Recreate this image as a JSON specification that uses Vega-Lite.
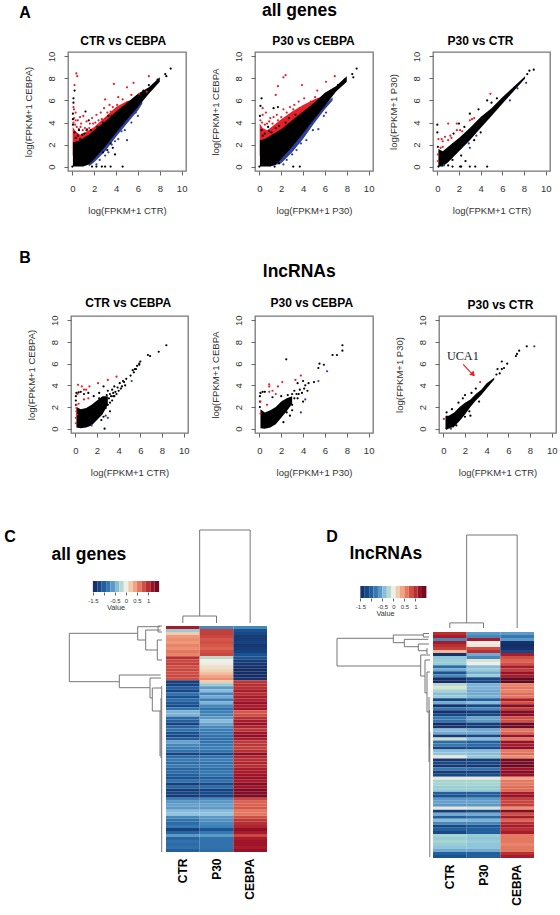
{"$schema":"https://vega.github.io/schema/vega-lite/v6.json","autosize":{"type":"none"},"padding":{"left":68,"top":52,"right":492,"bottom":863},"background":"white",
"config":{"view":{"stroke":null},"concat":{"spacing":0},"font":"Liberation Sans","title":{"font":"Liberation Sans","fontSize":12,"fontWeight":"bold","offset":3,"color":"#000","anchor":"middle"},
"axisX":{"grid":false,"domain":false,"tickColor":"#666","tickSize":4,"labelColor":"#333","labelFontSize":9.5,"labelPadding":8,"labelFlush":false,"labelOverlap":false,"titleFontWeight":"normal","titleFontSize":9.5,"titleColor":"#333","titlePadding":13},
"axisY":{"grid":false,"domain":false,"tickColor":"#666","tickSize":4,"labelColor":"#333","labelFontSize":9.5,"labelPadding":8,"labelAngle":-90,"labelAlign":"center","labelBaseline":"bottom","labelOverlap":false,"titleFontWeight":"normal","titleFontSize":9.5,"titleColor":"#333","titlePadding":13}},
"datasets":{
"env":[
{"p":"a1","c":"up","x":0.03,"lo":1,"hi":3.6},{"p":"a1","c":"up","x":0.3,"lo":1,"hi":3.2},{"p":"a1","c":"up","x":0.7,"lo":1.5,"hi":2.9},{"p":"a1","c":"up","x":1,"lo":2,"hi":3},{"p":"a1","c":"up","x":2,"lo":2.8,"hi":3.6},{"p":"a1","c":"up","x":3,"lo":3.6,"hi":4.5},{"p":"a1","c":"up","x":4,"lo":4.5,"hi":5.4},{"p":"a1","c":"up","x":5,"lo":5.4,"hi":5.95},{"p":"a1","c":"up","x":5.6,"lo":5.9,"hi":6.05},
{"p":"a1","c":"down","x":1.5,"lo":0,"hi":0.3},{"p":"a1","c":"down","x":2,"lo":0.4,"hi":0.8},{"p":"a1","c":"down","x":3,"lo":1.4,"hi":1.9},{"p":"a1","c":"down","x":4,"lo":2.7,"hi":3.1},{"p":"a1","c":"down","x":5,"lo":3.9,"hi":4.3},{"p":"a1","c":"down","x":6,"lo":5.1,"hi":5.5},{"p":"a1","c":"down","x":6.4,"lo":5.7,"hi":5.9},
{"p":"a1","c":"ns","x":0.05,"lo":0,"hi":2.2},{"p":"a1","c":"ns","x":0.5,"lo":0,"hi":2.3},{"p":"a1","c":"ns","x":1,"lo":0,"hi":2.6},{"p":"a1","c":"ns","x":1.5,"lo":0.2,"hi":2.9},{"p":"a1","c":"ns","x":2,"lo":0.7,"hi":3.3},{"p":"a1","c":"ns","x":3,"lo":1.8,"hi":4.1},{"p":"a1","c":"ns","x":4,"lo":3.05,"hi":5},{"p":"a1","c":"ns","x":5,"lo":4.25,"hi":5.8},{"p":"a1","c":"ns","x":6,"lo":5.4,"hi":6.6},{"p":"a1","c":"ns","x":7,"lo":6.6,"hi":7.2},{"p":"a1","c":"ns","x":8,"lo":7.7,"hi":8.1},
{"p":"a2","c":"up","x":0.03,"lo":1,"hi":3.9},{"p":"a2","c":"up","x":0.3,"lo":1,"hi":3.5},{"p":"a2","c":"up","x":0.7,"lo":1.6,"hi":3.3},{"p":"a2","c":"up","x":1,"lo":2.2,"hi":3.5},{"p":"a2","c":"up","x":2,"lo":3,"hi":4.3},{"p":"a2","c":"up","x":3,"lo":3.9,"hi":5},{"p":"a2","c":"up","x":4,"lo":4.8,"hi":5.6},{"p":"a2","c":"up","x":5,"lo":5.6,"hi":6.1},{"p":"a2","c":"up","x":5.5,"lo":6,"hi":6.3},
{"p":"a2","c":"down","x":1,"lo":0,"hi":0.2},{"p":"a2","c":"down","x":2,"lo":0.3,"hi":0.8},{"p":"a2","c":"down","x":3,"lo":1.3,"hi":1.9},{"p":"a2","c":"down","x":4,"lo":2.5,"hi":3.1},{"p":"a2","c":"down","x":5,"lo":3.9,"hi":4.4},{"p":"a2","c":"down","x":6,"lo":5.2,"hi":5.6},{"p":"a2","c":"down","x":6.7,"lo":6,"hi":6.3},
{"p":"a2","c":"ns","x":0.05,"lo":0,"hi":2.4},{"p":"a2","c":"ns","x":0.5,"lo":0,"hi":2.5},{"p":"a2","c":"ns","x":1,"lo":0,"hi":2.8},{"p":"a2","c":"ns","x":1.5,"lo":0.2,"hi":3.1},{"p":"a2","c":"ns","x":2,"lo":0.7,"hi":3.4},{"p":"a2","c":"ns","x":3,"lo":1.8,"hi":4.2},{"p":"a2","c":"ns","x":4,"lo":3,"hi":5},{"p":"a2","c":"ns","x":5,"lo":4.3,"hi":5.8},{"p":"a2","c":"ns","x":6,"lo":5.5,"hi":6.7},{"p":"a2","c":"ns","x":7,"lo":6.8,"hi":7.3},{"p":"a2","c":"ns","x":8,"lo":7.7,"hi":8.2},
{"p":"a3","c":"ns","x":0.1,"lo":0,"hi":1.6},{"p":"a3","c":"ns","x":0.5,"lo":0,"hi":1.4},{"p":"a3","c":"ns","x":1,"lo":0.4,"hi":1.8},{"p":"a3","c":"ns","x":1.5,"lo":0.9,"hi":2.2},{"p":"a3","c":"ns","x":2,"lo":1.4,"hi":2.6},{"p":"a3","c":"ns","x":3,"lo":2.4,"hi":3.5},{"p":"a3","c":"ns","x":4,"lo":3.5,"hi":4.5},{"p":"a3","c":"ns","x":5,"lo":4.6,"hi":5.3},{"p":"a3","c":"ns","x":6,"lo":5.7,"hi":6.3},{"p":"a3","c":"ns","x":7,"lo":6.8,"hi":7.2},{"p":"a3","c":"ns","x":8.1,"lo":8,"hi":8.2},
{"p":"b1","c":"ns","x":0.1,"lo":0.1,"hi":2},{"p":"b1","c":"ns","x":0.5,"lo":0.05,"hi":1.8},{"p":"b1","c":"ns","x":1,"lo":0.1,"hi":1.9},{"p":"b1","c":"ns","x":1.5,"lo":0.3,"hi":2.2},{"p":"b1","c":"ns","x":2,"lo":0.8,"hi":2.6},{"p":"b1","c":"ns","x":2.5,"lo":1.3,"hi":3},{"p":"b1","c":"ns","x":3,"lo":2.2,"hi":3},
{"p":"b2","c":"ns","x":0.1,"lo":0.05,"hi":1.8},{"p":"b2","c":"ns","x":0.5,"lo":0,"hi":1.5},{"p":"b2","c":"ns","x":1,"lo":0.1,"hi":1.7},{"p":"b2","c":"ns","x":1.5,"lo":0.4,"hi":2},{"p":"b2","c":"ns","x":2,"lo":1,"hi":2.5},{"p":"b2","c":"ns","x":2.5,"lo":1.6,"hi":2.8},{"p":"b2","c":"ns","x":3,"lo":2.3,"hi":3},
{"p":"b3","c":"ns","x":0.2,"lo":0,"hi":1.2},{"p":"b3","c":"ns","x":0.5,"lo":0,"hi":1.2},{"p":"b3","c":"ns","x":1,"lo":0.2,"hi":1.5},{"p":"b3","c":"ns","x":1.5,"lo":0.7,"hi":2},{"p":"b3","c":"ns","x":2,"lo":1.3,"hi":2.4},{"p":"b3","c":"ns","x":2.5,"lo":2,"hi":2.7},{"p":"b3","c":"ns","x":3,"lo":2.6,"hi":3.2},{"p":"b3","c":"ns","x":3.5,"lo":3.1,"hi":3.6},{"p":"b3","c":"ns","x":4,"lo":3.7,"hi":4.2},{"p":"b3","c":"ns","x":4.7,"lo":4.55,"hi":4.7}
],
"pts":[
{"p":"a1","c":"up","x":0.36,"y":8.45},{"p":"a1","c":"up","x":0.45,"y":8.2},{"p":"a1","c":"up","x":0.2,"y":7.4},{"p":"a1","c":"up","x":0.1,"y":5.4},{"p":"a1","c":"up","x":0.15,"y":5.2},{"p":"a1","c":"up","x":0.3,"y":4.9},{"p":"a1","c":"up","x":0.7,"y":4.5},{"p":"a1","c":"up","x":1,"y":4.6},{"p":"a1","c":"up","x":0.5,"y":4.2},{"p":"a1","c":"up","x":3.8,"y":7.5},{"p":"a1","c":"up","x":5,"y":7.2},{"p":"a1","c":"up","x":5.6,"y":7.6},{"p":"a1","c":"up","x":7,"y":8.2},{"p":"a1","c":"up","x":6.1,"y":6.6},{"p":"a1","c":"up","x":6.8,"y":6.8},{"p":"a1","c":"up","x":4.2,"y":6.3},{"p":"a1","c":"up","x":4.6,"y":6.1},{"p":"a1","c":"up","x":3,"y":6.1},{"p":"a1","c":"up","x":2.9,"y":5.3},{"p":"a1","c":"up","x":3.4,"y":5.6},{"p":"a1","c":"up","x":2.6,"y":4.9},{"p":"a1","c":"up","x":3.7,"y":5.4},{"p":"a1","c":"up","x":5.4,"y":6.5},{"p":"a1","c":"up","x":1.8,"y":4.4},{"p":"a1","c":"up","x":2.2,"y":4.7},{"p":"a1","c":"up","x":1.3,"y":4.1},{"p":"a1","c":"up","x":0.8,"y":3.9},{"p":"a1","c":"up","x":2.4,"y":4.2},{"p":"a1","c":"up","x":1.6,"y":3.9},{"p":"a1","c":"up","x":3.2,"y":4.9},{"p":"a1","c":"up","x":4.1,"y":5.6},{"p":"a1","c":"up","x":0.1,"y":4},{"p":"a1","c":"up","x":0.25,"y":3.8},{"p":"a1","c":"up","x":0.4,"y":3.6},{"p":"a1","c":"up","x":0.6,"y":3.4},{"p":"a1","c":"up","x":0.75,"y":3.6},{"p":"a1","c":"up","x":0.95,"y":3.3},{"p":"a1","c":"up","x":1.15,"y":3.5},{"p":"a1","c":"up","x":1.35,"y":3.4},{"p":"a1","c":"up","x":1.55,"y":3.5},{"p":"a1","c":"up","x":1.9,"y":3.9},{"p":"a1","c":"up","x":2.1,"y":4},{"p":"a1","c":"up","x":2.7,"y":4.3},{"p":"a1","c":"up","x":3.5,"y":5},{"p":"a1","c":"up","x":0.15,"y":4.4},{"p":"a1","c":"up","x":0.3,"y":4.2},
{"p":"a1","c":"ns","x":0.1,"y":6.2},{"p":"a1","c":"ns","x":0.1,"y":5.8},{"p":"a1","c":"ns","x":0.05,"y":4.8},{"p":"a1","c":"ns","x":0.05,"y":4.3},{"p":"a1","c":"ns","x":0.05,"y":3.8},{"p":"a1","c":"ns","x":1.2,"y":5},{"p":"a1","c":"ns","x":6.5,"y":6.9},{"p":"a1","c":"ns","x":7,"y":7.4},{"p":"a1","c":"ns","x":7.4,"y":7.4},{"p":"a1","c":"ns","x":7.8,"y":7.9},{"p":"a1","c":"ns","x":8.5,"y":8.4},{"p":"a1","c":"ns","x":8.6,"y":8.2},{"p":"a1","c":"ns","x":9,"y":8.9},{"p":"a1","c":"ns","x":0.2,"y":6.9},{"p":"a1","c":"ns","x":0,"y":0},{"p":"a1","c":"ns","x":1.8,"y":0},{"p":"a1","c":"ns","x":2.2,"y":0},{"p":"a1","c":"ns","x":2.7,"y":0},{"p":"a1","c":"ns","x":3,"y":0},{"p":"a1","c":"ns","x":3.5,"y":0},{"p":"a1","c":"ns","x":4.6,"y":0},{"p":"a1","c":"ns","x":3.7,"y":1.7},{"p":"a1","c":"ns","x":3.9,"y":1.1},{"p":"a1","c":"ns","x":3.5,"y":2.1},{"p":"a1","c":"ns","x":2.8,"y":1.3},{"p":"a1","c":"ns","x":3.2,"y":1.5},{"p":"a1","c":"ns","x":3.3,"y":4.6},{"p":"a1","c":"ns","x":0.6,"y":3.3},{"p":"a1","c":"ns","x":1.3,"y":3.3},{"p":"a1","c":"ns","x":0.9,"y":2.9},{"p":"a1","c":"ns","x":0.3,"y":2.6},{"p":"a1","c":"ns","x":0.5,"y":2.8},{"p":"a1","c":"ns","x":0.2,"y":3.1},{"p":"a1","c":"ns","x":1.1,"y":3},{"p":"a1","c":"ns","x":1.7,"y":3.3},{"p":"a1","c":"ns","x":2.3,"y":3.6},{"p":"a1","c":"ns","x":2.8,"y":4},{"p":"a1","c":"ns","x":3.6,"y":4.6},{"p":"a1","c":"ns","x":4.4,"y":5.2},{"p":"a1","c":"ns","x":0.7,"y":2.5},{"p":"a1","c":"ns","x":1.5,"y":4.2},
{"p":"a1","c":"down","x":5,"y":2.4},{"p":"a1","c":"down","x":4.8,"y":3.3},{"p":"a1","c":"down","x":4.5,"y":3.2},{"p":"a1","c":"down","x":5.4,"y":4},{"p":"a1","c":"down","x":6,"y":4.6},{"p":"a1","c":"down","x":3.6,"y":2},{"p":"a1","c":"down","x":3,"y":1},{"p":"a1","c":"down","x":2.5,"y":0.6},{"p":"a1","c":"down","x":4.2,"y":2.5},{"p":"a1","c":"down","x":3.3,"y":1.3},{"p":"a1","c":"down","x":2.2,"y":0.2},{"p":"a1","c":"down","x":3.9,"y":2.3},{"p":"a1","c":"down","x":5.8,"y":4.9},
{"p":"a2","c":"up","x":2.4,"y":8.3},{"p":"a2","c":"up","x":2.2,"y":8.1},{"p":"a2","c":"up","x":1.7,"y":7.3},{"p":"a2","c":"up","x":5.3,"y":6.9},{"p":"a2","c":"up","x":6.1,"y":7.7},{"p":"a2","c":"up","x":3.9,"y":7.4},{"p":"a2","c":"up","x":6.9,"y":8.2},{"p":"a2","c":"up","x":4.1,"y":6.2},{"p":"a2","c":"up","x":3.6,"y":5.9},{"p":"a2","c":"up","x":4.7,"y":5.9},{"p":"a2","c":"up","x":5.1,"y":6.3},{"p":"a2","c":"up","x":3.2,"y":5.6},{"p":"a2","c":"up","x":1.5,"y":6.5},{"p":"a2","c":"up","x":0.3,"y":5.3},{"p":"a2","c":"up","x":0.6,"y":4.9},{"p":"a2","c":"up","x":0.3,"y":4.7},{"p":"a2","c":"up","x":1,"y":4.4},{"p":"a2","c":"up","x":1.6,"y":4.7},{"p":"a2","c":"up","x":2.2,"y":5.2},{"p":"a2","c":"up","x":2.8,"y":5.4},{"p":"a2","c":"up","x":0.9,"y":4.1},{"p":"a2","c":"up","x":2.5,"y":4.9},{"p":"a2","c":"up","x":1.3,"y":4.5},{"p":"a2","c":"up","x":0.1,"y":4.2},{"p":"a2","c":"up","x":0.25,"y":4},{"p":"a2","c":"up","x":0.5,"y":3.8},{"p":"a2","c":"up","x":0.7,"y":3.9},{"p":"a2","c":"up","x":1.2,"y":3.9},{"p":"a2","c":"up","x":1.7,"y":4.2},{"p":"a2","c":"up","x":2,"y":4.5},{"p":"a2","c":"up","x":3.1,"y":5.2},{"p":"a2","c":"up","x":3.7,"y":5.3},
{"p":"a2","c":"ns","x":0.2,"y":6.2},{"p":"a2","c":"ns","x":0.1,"y":5.5},{"p":"a2","c":"ns","x":0.05,"y":4.6},{"p":"a2","c":"ns","x":1.7,"y":5.4},{"p":"a2","c":"ns","x":1.3,"y":5.3},{"p":"a2","c":"ns","x":0.9,"y":3.2},{"p":"a2","c":"ns","x":1.5,"y":3.5},{"p":"a2","c":"ns","x":0.5,"y":3},{"p":"a2","c":"ns","x":6.6,"y":6.9},{"p":"a2","c":"ns","x":7.2,"y":7.4},{"p":"a2","c":"ns","x":7.8,"y":7.9},{"p":"a2","c":"ns","x":8.5,"y":8.4},{"p":"a2","c":"ns","x":8.6,"y":8.1},{"p":"a2","c":"ns","x":8.9,"y":8.9},{"p":"a2","c":"ns","x":0,"y":0},{"p":"a2","c":"ns","x":1.4,"y":0},{"p":"a2","c":"ns","x":3.1,"y":0},{"p":"a2","c":"ns","x":3.7,"y":0},{"p":"a2","c":"ns","x":1.8,"y":0.3},{"p":"a2","c":"ns","x":0.3,"y":2.8},{"p":"a2","c":"ns","x":0.2,"y":3.3},{"p":"a2","c":"ns","x":1.1,"y":3.1},{"p":"a2","c":"ns","x":1.8,"y":3.7},{"p":"a2","c":"ns","x":2.4,"y":4},{"p":"a2","c":"ns","x":0.8,"y":3.6},{"p":"a2","c":"ns","x":3.3,"y":4.7},{"p":"a2","c":"ns","x":2.7,"y":4.4},
{"p":"a2","c":"down","x":5.4,"y":3.4},{"p":"a2","c":"down","x":4.9,"y":3.3},{"p":"a2","c":"down","x":3,"y":1.1},{"p":"a2","c":"down","x":3.4,"y":1.5},{"p":"a2","c":"down","x":2.5,"y":0.6},{"p":"a2","c":"down","x":4.3,"y":2.4},{"p":"a2","c":"down","x":6.1,"y":4.9},{"p":"a2","c":"down","x":5.9,"y":4.6},{"p":"a2","c":"down","x":3.8,"y":2.1},{"p":"a2","c":"down","x":2.2,"y":0.2},
{"p":"a3","c":"ns","x":0,"y":3.8},{"p":"a3","c":"ns","x":0,"y":3.1},{"p":"a3","c":"ns","x":0.05,"y":1.8},{"p":"a3","c":"ns","x":2,"y":3.9},{"p":"a3","c":"ns","x":3,"y":4.8},{"p":"a3","c":"ns","x":3.8,"y":5.2},{"p":"a3","c":"ns","x":8.5,"y":8.7},{"p":"a3","c":"ns","x":8.3,"y":8.4},{"p":"a3","c":"ns","x":8.9,"y":8.8},{"p":"a3","c":"ns","x":4.6,"y":6},{"p":"a3","c":"ns","x":5,"y":5.8},{"p":"a3","c":"ns","x":5.5,"y":6.2},{"p":"a3","c":"ns","x":4,"y":3.1},{"p":"a3","c":"ns","x":2.2,"y":1},{"p":"a3","c":"ns","x":2.6,"y":0.5},{"p":"a3","c":"ns","x":2.1,"y":0},{"p":"a3","c":"ns","x":2.2,"y":0},{"p":"a3","c":"ns","x":3,"y":0},{"p":"a3","c":"ns","x":3.5,"y":0},{"p":"a3","c":"ns","x":4.6,"y":0},{"p":"a3","c":"ns","x":1.4,"y":0},{"p":"a3","c":"ns","x":0.1,"y":0},{"p":"a3","c":"ns","x":1,"y":0.1},{"p":"a3","c":"ns","x":1.5,"y":3},{"p":"a3","c":"ns","x":2.5,"y":3.6},{"p":"a3","c":"ns","x":3.4,"y":2.4},{"p":"a3","c":"ns","x":1.4,"y":0.6},
{"p":"a3","c":"up","x":0.1,"y":2.5},{"p":"a3","c":"up","x":0.4,"y":2.5},{"p":"a3","c":"up","x":0.5,"y":2.3},{"p":"a3","c":"up","x":0.7,"y":2.7},{"p":"a3","c":"up","x":1,"y":2.4},{"p":"a3","c":"up","x":1.2,"y":2.8},{"p":"a3","c":"up","x":1.3,"y":2.6},{"p":"a3","c":"up","x":1,"y":3.9},{"p":"a3","c":"up","x":0.3,"y":1.7},{"p":"a3","c":"up","x":0.5,"y":1.8},{"p":"a3","c":"up","x":0.05,"y":1.1},{"p":"a3","c":"up","x":1.8,"y":3.3},{"p":"a3","c":"up","x":2.1,"y":3.3},{"p":"a3","c":"up","x":2.3,"y":3.2},{"p":"a3","c":"up","x":1.8,"y":3.9},{"p":"a3","c":"up","x":3,"y":4.2},{"p":"a3","c":"up","x":3.2,"y":4.3},{"p":"a3","c":"up","x":3.4,"y":4.4},{"p":"a3","c":"up","x":4.9,"y":6.6},{"p":"a3","c":"up","x":0.05,"y":0.5},
{"p":"a3","c":"down","x":8.2,"y":7.6},{"p":"a3","c":"down","x":6.7,"y":6},{"p":"a3","c":"down","x":3.6,"y":2.8},{"p":"a3","c":"down","x":3,"y":1.7},{"p":"a3","c":"down","x":0.6,"y":0.1},{"p":"a3","c":"down","x":2.9,"y":2.1},{"p":"a3","c":"down","x":7.4,"y":7.1},
{"p":"b1","c":"ns","x":0.05,"y":2.2},{"p":"b1","c":"ns","x":0.05,"y":2.6},{"p":"b1","c":"ns","x":0.05,"y":3},{"p":"b1","c":"ns","x":0.1,"y":3.3},{"p":"b1","c":"ns","x":0.3,"y":3.35},{"p":"b1","c":"ns","x":0.5,"y":3.4},{"p":"b1","c":"ns","x":0.8,"y":3.2},{"p":"b1","c":"ns","x":1.2,"y":3.3},{"p":"b1","c":"ns","x":1.7,"y":3},{"p":"b1","c":"ns","x":2.2,"y":3.3},{"p":"b1","c":"ns","x":2.6,"y":3.9},{"p":"b1","c":"ns","x":3,"y":3.5},{"p":"b1","c":"ns","x":3.2,"y":3.2},{"p":"b1","c":"ns","x":3.4,"y":3.6},{"p":"b1","c":"ns","x":3.5,"y":3},{"p":"b1","c":"ns","x":3.6,"y":3.9},{"p":"b1","c":"ns","x":3.7,"y":3.4},{"p":"b1","c":"ns","x":3.8,"y":3.2},{"p":"b1","c":"ns","x":3.9,"y":3.8},{"p":"b1","c":"ns","x":4,"y":3.5},{"p":"b1","c":"ns","x":4.1,"y":4.2},{"p":"b1","c":"ns","x":4.2,"y":3.7},{"p":"b1","c":"ns","x":4.3,"y":3.9},{"p":"b1","c":"ns","x":4.4,"y":4.4},{"p":"b1","c":"ns","x":4.5,"y":4.3},{"p":"b1","c":"ns","x":4.6,"y":4},{"p":"b1","c":"ns","x":4.7,"y":4.6},{"p":"b1","c":"ns","x":3.2,"y":2.4},{"p":"b1","c":"ns","x":3.4,"y":2.6},{"p":"b1","c":"ns","x":2.8,"y":1.9},{"p":"b1","c":"ns","x":3.2,"y":1.6},{"p":"b1","c":"ns","x":2.4,"y":0.8},{"p":"b1","c":"ns","x":2.7,"y":0},{"p":"b1","c":"ns","x":5.3,"y":5.4},{"p":"b1","c":"ns","x":5.5,"y":5.5},{"p":"b1","c":"ns","x":5.4,"y":5.2},{"p":"b1","c":"ns","x":5.7,"y":5.8},{"p":"b1","c":"ns","x":5.6,"y":5.5},{"p":"b1","c":"ns","x":5.9,"y":5.9},{"p":"b1","c":"ns","x":5.1,"y":4.9},{"p":"b1","c":"ns","x":6,"y":6.2},{"p":"b1","c":"ns","x":5.9,"y":6},{"p":"b1","c":"ns","x":6.7,"y":6.8},{"p":"b1","c":"ns","x":6.9,"y":6.7},{"p":"b1","c":"ns","x":7.7,"y":7.1},{"p":"b1","c":"ns","x":8.4,"y":7.7},{"p":"b1","c":"ns","x":2.9,"y":3.1},{"p":"b1","c":"ns","x":3.1,"y":2.8},{"p":"b1","c":"ns","x":3.3,"y":3},{"p":"b1","c":"ns","x":3.6,"y":3},{"p":"b1","c":"ns","x":3.5,"y":3.3},{"p":"b1","c":"ns","x":3,"y":2.2},{"p":"b1","c":"ns","x":2.6,"y":1.1},{"p":"b1","c":"ns","x":2.2,"y":2.8},
{"p":"b1","c":"up","x":0.2,"y":3.2},{"p":"b1","c":"up","x":0.25,"y":4.05},{"p":"b1","c":"up","x":0.6,"y":3.9},{"p":"b1","c":"up","x":0.8,"y":3.6},{"p":"b1","c":"up","x":1,"y":3.6},{"p":"b1","c":"up","x":1.3,"y":3.9},{"p":"b1","c":"up","x":2.1,"y":4.2},{"p":"b1","c":"up","x":3,"y":4.5},{"p":"b1","c":"up","x":3.8,"y":4.8},{"p":"b1","c":"up","x":0.1,"y":2.2},{"p":"b1","c":"up","x":0.1,"y":1.6},{"p":"b1","c":"up","x":0.05,"y":1},{"p":"b1","c":"up","x":0.05,"y":0.5},{"p":"b1","c":"up","x":0.3,"y":2.3},{"p":"b1","c":"up","x":0.8,"y":2.7},{"p":"b1","c":"up","x":1.2,"y":2.8},{"p":"b1","c":"up","x":0.1,"y":1.9},{"p":"b1","c":"up","x":0.15,"y":1.3},
{"p":"b1","c":"down","x":3,"y":1},{"p":"b1","c":"down","x":2.8,"y":1.2},{"p":"b1","c":"down","x":1.5,"y":0.3},{"p":"b1","c":"down","x":5.2,"y":4.4},
{"p":"b2","c":"ns","x":0.05,"y":2},{"p":"b2","c":"ns","x":0.05,"y":2.5},{"p":"b2","c":"ns","x":0.05,"y":3},{"p":"b2","c":"ns","x":0.1,"y":3.3},{"p":"b2","c":"ns","x":0.3,"y":3.4},{"p":"b2","c":"ns","x":0.5,"y":3.4},{"p":"b2","c":"ns","x":1.2,"y":2.9},{"p":"b2","c":"ns","x":2,"y":3},{"p":"b2","c":"ns","x":2.46,"y":6.4},{"p":"b2","c":"ns","x":7.6,"y":7.7},{"p":"b2","c":"ns","x":7.6,"y":7.2},{"p":"b2","c":"ns","x":7.1,"y":6.8},{"p":"b2","c":"ns","x":6.7,"y":6.8},{"p":"b2","c":"ns","x":5.5,"y":6},{"p":"b2","c":"ns","x":5.9,"y":5.9},{"p":"b2","c":"ns","x":5.4,"y":5.6},{"p":"b2","c":"ns","x":3.5,"y":4.2},{"p":"b2","c":"ns","x":4,"y":4.4},{"p":"b2","c":"ns","x":4.2,"y":4},{"p":"b2","c":"ns","x":4.5,"y":4.2},{"p":"b2","c":"ns","x":5,"y":4.3},{"p":"b2","c":"ns","x":3.7,"y":3.6},{"p":"b2","c":"ns","x":4.4,"y":3.5},{"p":"b2","c":"ns","x":3.5,"y":2.8},{"p":"b2","c":"ns","x":3,"y":2.2},{"p":"b2","c":"ns","x":2.5,"y":1.5},{"p":"b2","c":"ns","x":3,"y":1.7},{"p":"b2","c":"ns","x":4,"y":2.5},{"p":"b2","c":"ns","x":3.2,"y":3.5},{"p":"b2","c":"ns","x":3.4,"y":3.2},{"p":"b2","c":"ns","x":3.9,"y":3.3},{"p":"b2","c":"ns","x":4.1,"y":3.7},{"p":"b2","c":"ns","x":3,"y":3.2},{"p":"b2","c":"ns","x":2.6,"y":3.1},{"p":"b2","c":"ns","x":2.8,"y":1.2},{"p":"b2","c":"ns","x":2.2,"y":0.6},{"p":"b2","c":"ns","x":3.2,"y":2.8},{"p":"b2","c":"ns","x":3.6,"y":3.2},
{"p":"b2","c":"up","x":0.9,"y":4.1},{"p":"b2","c":"up","x":0.9,"y":3.9},{"p":"b2","c":"up","x":1.2,"y":3.5},{"p":"b2","c":"up","x":1.7,"y":3.9},{"p":"b2","c":"up","x":1.5,"y":3.2},{"p":"b2","c":"up","x":0.9,"y":3.4},{"p":"b2","c":"up","x":0.1,"y":2.5},{"p":"b2","c":"up","x":0.7,"y":2.2},{"p":"b2","c":"up","x":3.3,"y":4.5},{"p":"b2","c":"up","x":3.8,"y":4.9},{"p":"b2","c":"up","x":2.1,"y":4.3},{"p":"b2","c":"up","x":0.1,"y":1.4},
{"p":"b2","c":"down","x":6.2,"y":5.3},{"p":"b2","c":"down","x":5.4,"y":4.4},{"p":"b2","c":"down","x":4.2,"y":2.7},{"p":"b2","c":"down","x":3.8,"y":1.5},
{"p":"b3","c":"ns","x":7.7,"y":7.6},{"p":"b3","c":"ns","x":7,"y":7.2},{"p":"b3","c":"ns","x":6.7,"y":6.7},{"p":"b3","c":"ns","x":6.8,"y":6.9},{"p":"b3","c":"ns","x":5.4,"y":6.2},{"p":"b3","c":"ns","x":5.9,"y":6},{"p":"b3","c":"ns","x":5,"y":5.5},{"p":"b3","c":"ns","x":5.4,"y":5.5},{"p":"b3","c":"ns","x":5.6,"y":5.6},{"p":"b3","c":"ns","x":5.2,"y":5.1},{"p":"b3","c":"ns","x":4.9,"y":5},{"p":"b3","c":"ns","x":3,"y":3.7},{"p":"b3","c":"ns","x":2.6,"y":3.3},{"p":"b3","c":"ns","x":2,"y":3.1},{"p":"b3","c":"ns","x":1.8,"y":2.8},{"p":"b3","c":"ns","x":1.4,"y":2.4},{"p":"b3","c":"ns","x":0.8,"y":1.8},{"p":"b3","c":"ns","x":0.3,"y":1.5},{"p":"b3","c":"ns","x":2.5,"y":1.2},{"p":"b3","c":"ns","x":2,"y":1.1},{"p":"b3","c":"ns","x":1.2,"y":0.3},{"p":"b3","c":"ns","x":2.4,"y":1.6},{"p":"b3","c":"ns","x":3.3,"y":2.5},{"p":"b3","c":"ns","x":0.9,"y":0.2},{"p":"b3","c":"ns","x":0.3,"y":0},
{"p":"b3","c":"up","x":0.05,"y":0.9},{"p":"b3","c":"up","x":3.4,"y":4.3},{"p":"b3","c":"down","x":8.4,"y":7.6},{"p":"b3","c":"down","x":0.7,"y":0}
],
"heatC":[
{"r":1,"CTR":1.1,"P30":-0.7,"CEBPA":-0.7},{"r":2,"CTR":-0.3,"P30":0.9,"CEBPA":-1.1},{"r":3,"CTR":0.2,"P30":0.9,"CEBPA":-1.2},{"r":4,"CTR":0.45,"P30":0.85,"CEBPA":-1.3},{"r":5,"CTR":0.5,"P30":0.75,"CEBPA":-1.3},{"r":6,"CTR":0.45,"P30":0.8,"CEBPA":-1.25},{"r":7,"CTR":0.55,"P30":0.75,"CEBPA":-1.35},{"r":8,"CTR":0.5,"P30":0.7,"CEBPA":-1.3},{"r":9,"CTR":0.6,"P30":0.8,"CEBPA":-1.25},{"r":10,"CTR":0.55,"P30":0.85,"CEBPA":-1.1},
{"r":11,"CTR":1,"P30":-0.2,"CEBPA":-1.1},{"r":12,"CTR":0.85,"P30":0,"CEBPA":-1.3},{"r":13,"CTR":0.9,"P30":0.02,"CEBPA":-1.35},{"r":14,"CTR":0.8,"P30":0.1,"CEBPA":-1.4},{"r":15,"CTR":0.85,"P30":0.15,"CEBPA":-1.45},{"r":16,"CTR":0.8,"P30":0.25,"CEBPA":-1.45},{"r":17,"CTR":0.85,"P30":0.4,"CEBPA":-1.45},{"r":18,"CTR":0.8,"P30":0.5,"CEBPA":-1.4},
{"r":19,"CTR":-1.25,"P30":0.2,"CEBPA":0.95},{"r":20,"CTR":-1.25,"P30":-0.3,"CEBPA":1},{"r":21,"CTR":-1,"P30":-0.6,"CEBPA":1},{"r":22,"CTR":-1.2,"P30":-0.4,"CEBPA":1.1},{"r":23,"CTR":-0.85,"P30":-0.7,"CEBPA":1},{"r":24,"CTR":-1.1,"P30":-0.5,"CEBPA":1.1},{"r":25,"CTR":-0.9,"P30":-0.75,"CEBPA":1.05},{"r":26,"CTR":-1.05,"P30":-0.45,"CEBPA":1.2},{"r":27,"CTR":-1.15,"P30":-0.7,"CEBPA":1.1},{"r":28,"CTR":-0.85,"P30":-0.85,"CEBPA":1.15},
{"r":29,"CTR":-0.45,"P30":-0.75,"CEBPA":0.75},{"r":30,"CTR":-0.45,"P30":-0.7,"CEBPA":0.8},{"r":31,"CTR":-0.9,"P30":-0.6,"CEBPA":1},{"r":32,"CTR":-1,"P30":-0.4,"CEBPA":1.1},{"r":33,"CTR":-1.25,"P30":-0.55,"CEBPA":1.2},{"r":34,"CTR":-0.95,"P30":-0.7,"CEBPA":1.05},{"r":35,"CTR":-0.85,"P30":-0.75,"CEBPA":0.95},{"r":36,"CTR":-1.1,"P30":-0.8,"CEBPA":1.15},{"r":37,"CTR":-1.2,"P30":-0.85,"CEBPA":1.25},{"r":38,"CTR":-1,"P30":-0.9,"CEBPA":1.1},{"r":39,"CTR":-0.55,"P30":-0.85,"CEBPA":0.95},{"r":40,"CTR":-0.7,"P30":-0.8,"CEBPA":0.95},{"r":41,"CTR":-0.75,"P30":-0.75,"CEBPA":0.9},{"r":42,"CTR":-0.85,"P30":-0.85,"CEBPA":1},{"r":43,"CTR":-1.25,"P30":-1.15,"CEBPA":1.25},{"r":44,"CTR":-0.9,"P30":-0.85,"CEBPA":1.05},{"r":45,"CTR":-0.8,"P30":-0.75,"CEBPA":1},{"r":46,"CTR":-0.9,"P30":-0.85,"CEBPA":1.05},{"r":47,"CTR":-0.8,"P30":-0.8,"CEBPA":1},{"r":48,"CTR":-0.95,"P30":-0.9,"CEBPA":1.1},{"r":49,"CTR":-0.9,"P30":-0.8,"CEBPA":1.1},{"r":50,"CTR":-1,"P30":-0.85,"CEBPA":1.15},{"r":51,"CTR":-1.1,"P30":-1,"CEBPA":1.2},{"r":52,"CTR":-0.85,"P30":-0.85,"CEBPA":1.1},{"r":53,"CTR":-1.3,"P30":-1.2,"CEBPA":1.3},{"r":54,"CTR":-0.95,"P30":-0.9,"CEBPA":1.15},{"r":55,"CTR":-1.3,"P30":-1.25,"CEBPA":1.35},{"r":56,"CTR":-1.2,"P30":-1.15,"CEBPA":1.3},{"r":57,"CTR":-1.3,"P30":-1.25,"CEBPA":1.35},
{"r":58,"CTR":-0.75,"P30":-0.7,"CEBPA":0.85},{"r":59,"CTR":-0.6,"P30":-0.6,"CEBPA":0.7},{"r":60,"CTR":-0.55,"P30":-0.55,"CEBPA":0.7},{"r":61,"CTR":-0.6,"P30":-0.6,"CEBPA":0.75},{"r":62,"CTR":-0.4,"P30":-0.4,"CEBPA":0.6},{"r":63,"CTR":-0.35,"P30":-0.35,"CEBPA":0.6},{"r":64,"CTR":-0.7,"P30":-0.6,"CEBPA":0.8},{"r":65,"CTR":-0.85,"P30":-0.65,"CEBPA":0.95},{"r":66,"CTR":-0.9,"P30":-0.7,"CEBPA":1},{"r":67,"CTR":-0.8,"P30":-0.75,"CEBPA":1.05},{"r":68,"CTR":-1.25,"P30":-1.1,"CEBPA":1.25},{"r":69,"CTR":-0.95,"P30":-0.8,"CEBPA":1.1},{"r":70,"CTR":-0.6,"P30":-0.6,"CEBPA":0.85},{"r":71,"CTR":-0.95,"P30":-0.85,"CEBPA":1.1},{"r":72,"CTR":-0.85,"P30":-0.85,"CEBPA":1.15},{"r":73,"CTR":-0.9,"P30":-0.85,"CEBPA":1.15},{"r":74,"CTR":-0.85,"P30":-0.85,"CEBPA":1.1},{"r":75,"CTR":-1,"P30":-0.9,"CEBPA":1.2}
],
"heatD":[
{"r":1,"CTR":1,"P30":-0.6,"CEBPA":-0.6},{"r":2,"CTR":1.1,"P30":-0.7,"CEBPA":-0.8},{"r":3,"CTR":-0.7,"P30":1.1,"CEBPA":-0.6},{"r":4,"CTR":1.1,"P30":0,"CEBPA":-1.4},{"r":5,"CTR":1,"P30":0.05,"CEBPA":-1.45},{"r":6,"CTR":0.9,"P30":0.8,"CEBPA":-1.4},{"r":7,"CTR":0.3,"P30":1,"CEBPA":-1.2},{"r":8,"CTR":-1.4,"P30":-0.5,"CEBPA":1.1},{"r":9,"CTR":-0.35,"P30":-0.7,"CEBPA":0.8},{"r":10,"CTR":-0.3,"P30":-0.1,"CEBPA":0.7},{"r":11,"CTR":-0.3,"P30":0,"CEBPA":0.8},{"r":12,"CTR":-0.9,"P30":-0.4,"CEBPA":1.1},{"r":13,"CTR":-0.5,"P30":-0.3,"CEBPA":0.9},{"r":14,"CTR":-1.1,"P30":-0.5,"CEBPA":1.2},{"r":15,"CTR":-0.7,"P30":-0.3,"CEBPA":1.1},{"r":16,"CTR":-1.45,"P30":-1.2,"CEBPA":1.5},{"r":17,"CTR":-1.45,"P30":-1.2,"CEBPA":1.5},{"r":18,"CTR":-0.2,"P30":-0.45,"CEBPA":0.55},{"r":19,"CTR":-0.1,"P30":-0.45,"CEBPA":0.6},{"r":20,"CTR":-0.25,"P30":-0.5,"CEBPA":0.55},{"r":21,"CTR":-0.4,"P30":-0.5,"CEBPA":0.65},{"r":22,"CTR":-0.3,"P30":-0.45,"CEBPA":0.6},{"r":23,"CTR":-1.2,"P30":-1,"CEBPA":1.1},{"r":24,"CTR":-0.5,"P30":-0.4,"CEBPA":0.8},{"r":25,"CTR":-1.4,"P30":-1.2,"CEBPA":1.3},
{"r":26,"CTR":-0.8,"P30":-0.7,"CEBPA":0.9},{"r":27,"CTR":-1.4,"P30":-1.3,"CEBPA":1.3},{"r":28,"CTR":-1.2,"P30":-1.2,"CEBPA":1.25},{"r":29,"CTR":-0.8,"P30":-0.55,"CEBPA":0.8},{"r":30,"CTR":-0.85,"P30":-0.6,"CEBPA":0.8},{"r":31,"CTR":-1.45,"P30":-1.3,"CEBPA":1.45},{"r":32,"CTR":-1.35,"P30":-1.3,"CEBPA":1.4},{"r":33,"CTR":-0.4,"P30":-0.5,"CEBPA":0.6},{"r":34,"CTR":-0.5,"P30":-0.5,"CEBPA":0.7},{"r":35,"CTR":-1.3,"P30":-1.2,"CEBPA":1.2},{"r":36,"CTR":-0.15,"P30":-0.4,"CEBPA":0.6},{"r":37,"CTR":-0.9,"P30":-1,"CEBPA":1.2},{"r":38,"CTR":-0.8,"P30":-0.9,"CEBPA":1.1},{"r":39,"CTR":-1.2,"P30":-1.15,"CEBPA":1.25},{"r":40,"CTR":-0.4,"P30":-0.4,"CEBPA":0.6},{"r":41,"CTR":-0.35,"P30":-0.4,"CEBPA":0.65},{"r":42,"CTR":-0.05,"P30":-0.3,"CEBPA":0.5},{"r":43,"CTR":-1.35,"P30":-1.3,"CEBPA":1.4},{"r":44,"CTR":-1.2,"P30":-1.2,"CEBPA":1.35},{"r":45,"CTR":-1.35,"P30":-1.35,"CEBPA":1.45},{"r":46,"CTR":-0.8,"P30":-0.85,"CEBPA":1.15},{"r":47,"CTR":-1.3,"P30":-1.3,"CEBPA":1.3},{"r":48,"CTR":-1.2,"P30":-1.15,"CEBPA":1.2},{"r":49,"CTR":-0.05,"P30":-0.05,"CEBPA":0.4},{"r":50,"CTR":-0.25,"P30":-0.25,"CEBPA":0.6},{"r":51,"CTR":-0.25,"P30":-0.25,"CEBPA":0.6},{"r":52,"CTR":-0.3,"P30":-0.3,"CEBPA":0.65},{"r":53,"CTR":-0.3,"P30":-0.3,"CEBPA":0.65},{"r":54,"CTR":-1,"P30":-1,"CEBPA":1.1},{"r":55,"CTR":-1.1,"P30":-1,"CEBPA":1.2},{"r":56,"CTR":-0.6,"P30":-0.6,"CEBPA":0.9},{"r":57,"CTR":-0.55,"P30":-0.55,"CEBPA":0.85},{"r":58,"CTR":-0.6,"P30":-0.6,"CEBPA":0.9},{"r":59,"CTR":-0.05,"P30":-0.1,"CEBPA":0.5},{"r":60,"CTR":-1.3,"P30":-1.2,"CEBPA":1.3},{"r":61,"CTR":-0.5,"P30":-0.5,"CEBPA":0.8},{"r":62,"CTR":-1,"P30":-0.9,"CEBPA":1.1},{"r":63,"CTR":-0.4,"P30":-0.45,"CEBPA":0.7},{"r":64,"CTR":-0.7,"P30":-0.7,"CEBPA":1},{"r":65,"CTR":-1.2,"P30":-1.1,"CEBPA":1.1},{"r":66,"CTR":-1,"P30":-1,"CEBPA":1},{"r":67,"CTR":-1.2,"P30":-1,"CEBPA":1.1},{"r":68,"CTR":-0.25,"P30":-0.3,"CEBPA":0.6},{"r":69,"CTR":-0.3,"P30":-0.35,"CEBPA":0.6},{"r":70,"CTR":-0.25,"P30":-0.3,"CEBPA":0.6},{"r":71,"CTR":-0.3,"P30":-0.35,"CEBPA":0.55},{"r":72,"CTR":-0.35,"P30":-0.35,"CEBPA":0.6},{"r":73,"CTR":-0.5,"P30":-0.5,"CEBPA":0.6},{"r":74,"CTR":-1,"P30":-1,"CEBPA":1},{"r":75,"CTR":-1.1,"P30":-1,"CEBPA":1.1}
],
"key":[{"lo":-1.5,"hi":-1.3,"v":-1.4},{"lo":-1.3,"hi":-1.1,"v":-1.2},{"lo":-1.1,"hi":-0.9,"v":-1},{"lo":-0.9,"hi":-0.7,"v":-0.8},{"lo":-0.7,"hi":-0.5,"v":-0.6},{"lo":-0.5,"hi":-0.3,"v":-0.4},{"lo":-0.3,"hi":-0.1,"v":-0.2},{"lo":-0.1,"hi":0.1,"v":0},{"lo":0.1,"hi":0.3,"v":0.2},{"lo":0.3,"hi":0.5,"v":0.4},{"lo":0.5,"hi":0.7,"v":0.6},{"lo":0.7,"hi":0.9,"v":0.8},{"lo":0.9,"hi":1.1,"v":1},{"lo":1.1,"hi":1.3,"v":1.2},{"lo":1.3,"hi":1.5,"v":1.4}],
"dendTopC":[{"x":0.5,"x2":0.5,"y":0,"y2":0.075},{"x":1.5,"x2":1.5,"y":0,"y2":0.075},{"x":0.5,"x2":1.5,"y":0.075,"y2":0.075},{"x":1,"x2":1,"y":0.075,"y2":1},{"x":1,"x2":2.5,"y":1,"y2":1},{"x":2.5,"x2":2.5,"y":0,"y2":1}],
"dendTopD":[{"x":0.5,"x2":0.5,"y":0,"y2":0.055},{"x":1.5,"x2":1.5,"y":0,"y2":0.055},{"x":0.5,"x2":1.5,"y":0.055,"y2":0.055},{"x":1,"x2":1,"y":0.055,"y2":1},{"x":1,"x2":2.5,"y":1,"y2":1},{"x":2.5,"x2":2.5,"y":0,"y2":1}],
"dendLeftC":[{"h":92.7,"h2":92.7,"y":7.3,"y2":55.7},{"h":92.7,"h2":24.3,"y":7.3,"y2":7.3},{"h":24.3,"h2":24.3,"y":0.7,"y2":14},{"h":24.3,"h2":2,"y":0.7,"y2":0.7},{"h":24.3,"h2":16.3,"y":14,"y2":14},{"h":16.3,"h2":16.3,"y":4,"y2":24},{"h":16.3,"h2":1.3,"y":4,"y2":4},{"h":16.3,"h2":4.7,"y":24,"y2":24},{"h":4.7,"h2":4.7,"y":14,"y2":34},{"h":4.7,"h2":0,"y":14,"y2":14},{"h":4.7,"h2":0,"y":34,"y2":34},{"h":92.7,"h2":42.7,"y":55.7,"y2":55.7},{"h":42.7,"h2":42.7,"y":49,"y2":61.7},{"h":42.7,"h2":1.3,"y":49,"y2":49},{"h":42.7,"h2":12,"y":61.7,"y2":61.7},{"h":12,"h2":12,"y":52,"y2":72},{"h":12,"h2":1,"y":52,"y2":52},{"h":12,"h2":9.7,"y":72,"y2":72},{"h":9.7,"h2":9.7,"y":62,"y2":85},{"h":9.7,"h2":1,"y":62,"y2":62},{"h":9.7,"h2":1,"y":85,"y2":85},{"h":2,"h2":2,"y":85,"y2":130},{"h":1,"h2":1,"y":72,"y2":132},{"h":0.3,"h2":0.3,"y":60,"y2":226},{"h":4,"h2":4,"y":0,"y2":6},{"h":4,"h2":0,"y":0,"y2":0},{"h":4,"h2":0,"y":6,"y2":6}],
"dendLeftD":[{"h":96,"h2":96,"y":6.3,"y2":34},{"h":96,"h2":39.7,"y":6.3,"y2":6.3},{"h":39.7,"h2":39.7,"y":3,"y2":10.7},{"h":39.7,"h2":9.7,"y":3,"y2":3},{"h":9.7,"h2":9.7,"y":1.5,"y2":5},{"h":9.7,"h2":4,"y":1.5,"y2":1.5},{"h":9.7,"h2":4,"y":5,"y2":5},{"h":39.7,"h2":28.7,"y":10.7,"y2":10.7},{"h":28.7,"h2":28.7,"y":7.3,"y2":14.7},{"h":28.7,"h2":4.7,"y":7.3,"y2":7.3},{"h":28.7,"h2":14.7,"y":14.7,"y2":14.7},{"h":14.7,"h2":14.7,"y":12,"y2":18.7},{"h":14.7,"h2":4,"y":12,"y2":12},{"h":14.7,"h2":6,"y":18.7,"y2":18.7},{"h":6,"h2":6,"y":16,"y2":22},{"h":96,"h2":12.3,"y":34,"y2":34},{"h":12.3,"h2":12.3,"y":23,"y2":44},{"h":12.3,"h2":3,"y":23,"y2":23},{"h":12.3,"h2":8,"y":44,"y2":44},{"h":8,"h2":8,"y":28,"y2":61},{"h":8,"h2":3,"y":28,"y2":28},{"h":8,"h2":6,"y":61,"y2":61},{"h":6,"h2":6,"y":40,"y2":80},{"h":6,"h2":3,"y":40,"y2":40},{"h":6,"h2":4,"y":80,"y2":80},{"h":4,"h2":4,"y":65,"y2":130},{"h":3.6,"h2":3.6,"y":78,"y2":115},{"h":3.2,"h2":3.2,"y":100,"y2":225}]
},
"bounds":"flush","spacing":0,
"vconcat":[
{"hconcat":[
{"width":118,"height":119,"view":{"stroke":"#777","strokeWidth":1.3},"layer":[
{"data":{"name":"env"},"transform":[{"filter":"datum.p=='a1'"}],"mark":"area","encoding":{"x":{"field":"x","type":"quantitative","scale":{"domain":[-0.4,10.4],"nice":false},"axis":{"title":"log(FPKM+1 CTR)","values":[0,2,4,6,8,10],"tickCount":6}},"y":{"field":"lo","type":"quantitative","scale":{"domain":[-0.4,10.4],"nice":false},"axis":{"title":"log(FPKM+1 CEBPA)","values":[0,2,4,6,8,10],"tickCount":6}},"y2":{"field":"hi"},"color":{"field":"c","type":"nominal","scale":{"domain":["up","ns","down"],"range":["#e8202c","#000000","#2e40a0"]},"legend":null}}},
{"data":{"name":"pts"},"transform":[{"filter":"datum.p=='a1'"}],"mark":{"type":"circle","size":5,"opacity":1},"encoding":{"x":{"field":"x","type":"quantitative"},"y":{"field":"y","type":"quantitative"},"color":{"field":"c","type":"nominal"}}},
{"data":{"values":[{"label":"A"}]},"mark":{"type":"text","font":"Liberation Sans","fontWeight":"bold","fontSize":16,"color":"#000"},"encoding":{"x":{"datum":-4.33},"y":{"datum":13.96},"text":{"field":"label"}}},
{"data":{"values":[{"label":"CTR vs CEBPA"}]},"mark":{"type":"text","font":"Liberation Sans","fontWeight":"bold","fontSize":12,"color":"#000"},"encoding":{"x":{"datum":4.65},"y":{"datum":11.42},"text":{"field":"label"}}}
]},
{"width":69,"height":1,"data":{"values":[]},"mark":"point"},
{"width":118,"height":119,"view":{"stroke":"#777","strokeWidth":1.3},"layer":[
{"data":{"name":"env"},"transform":[{"filter":"datum.p=='a2'"}],"mark":"area","encoding":{"x":{"field":"x","type":"quantitative","scale":{"domain":[-0.4,10.4],"nice":false},"axis":{"title":"log(FPKM+1 P30)","values":[0,2,4,6,8,10],"tickCount":6}},"y":{"field":"lo","type":"quantitative","scale":{"domain":[-0.4,10.4],"nice":false},"axis":{"title":"log(FPKM+1 CEBPA","values":[0,2,4,6,8,10],"tickCount":6}},"y2":{"field":"hi"},"color":{"field":"c","type":"nominal","scale":{"domain":["up","ns","down"],"range":["#e8202c","#000000","#2e40a0"]},"legend":null}}},
{"data":{"name":"pts"},"transform":[{"filter":"datum.p=='a2'"}],"mark":{"type":"circle","size":5,"opacity":1},"encoding":{"x":{"field":"x","type":"quantitative"},"y":{"field":"y","type":"quantitative"},"color":{"field":"c","type":"nominal"}}},
{"data":{"values":[{"label":"all genes"}]},"mark":{"type":"text","font":"Liberation Sans","fontWeight":"bold","fontSize":17.5,"color":"#000"},"encoding":{"x":{"datum":3.67},"y":{"datum":14.15},"text":{"field":"label"}}},
{"data":{"values":[{"label":"P30 vs CEBPA"}]},"mark":{"type":"text","font":"Liberation Sans","fontWeight":"bold","fontSize":12,"color":"#000"},"encoding":{"x":{"datum":4.95},"y":{"datum":11.42},"text":{"field":"label"}}}
]},
{"width":60,"height":1,"data":{"values":[]},"mark":"point"},
{"width":117,"height":119,"view":{"stroke":"#777","strokeWidth":1.3},"title":{"text":"P30 vs CTR","dx":-11},"layer":[
{"data":{"name":"env"},"transform":[{"filter":"datum.p=='a3'"}],"mark":"area","encoding":{"x":{"field":"x","type":"quantitative","scale":{"domain":[-0.4,10.4],"nice":false},"axis":{"title":"log(FPKM+1 CTR)","values":[0,2,4,6,8,10],"tickCount":6}},"y":{"field":"lo","type":"quantitative","scale":{"domain":[-0.4,10.4],"nice":false},"axis":{"title":"log(FPKM+1 P30)","values":[0,2,4,6,8,10],"tickCount":6}},"y2":{"field":"hi"},"color":{"field":"c","type":"nominal","scale":{"domain":["up","ns","down"],"range":["#e8202c","#000000","#2e40a0"]},"legend":null}}},
{"data":{"name":"pts"},"transform":[{"filter":"datum.p=='a3'"}],"mark":{"type":"circle","size":5,"opacity":1},"encoding":{"x":{"field":"x","type":"quantitative"},"y":{"field":"y","type":"quantitative"},"color":{"field":"c","type":"nominal"}}}
]}
],"spacing":0,"bounds":"flush"},
{"width":1,"height":264,"data":{"values":[]},"mark":"point"},
{"hconcat":[
{"width":3,"height":1,"data":{"values":[]},"mark":"point"},
{"width":117,"height":117,"view":{"stroke":"#777","strokeWidth":1.3},"layer":[
{"data":{"name":"env"},"transform":[{"filter":"datum.p=='b1'"}],"mark":"area","encoding":{"x":{"field":"x","type":"quantitative","scale":{"domain":[-0.4,10.4],"nice":false},"axis":{"title":"log(FPKM+1 CTR)","values":[0,2,4,6,8,10],"tickCount":6}},"y":{"field":"lo","type":"quantitative","scale":{"domain":[-0.4,10.4],"nice":false},"axis":{"title":"log(FPKM+1 CEBPA)","values":[0,2,4,6,8,10],"tickCount":6}},"y2":{"field":"hi"},"color":{"field":"c","type":"nominal","scale":{"domain":["up","ns","down"],"range":["#e8202c","#000000","#2e40a0"]},"legend":null}}},
{"data":{"name":"pts"},"transform":[{"filter":"datum.p=='b1'"}],"mark":{"type":"circle","size":5,"opacity":1},"encoding":{"x":{"field":"x","type":"quantitative"},"y":{"field":"y","type":"quantitative"},"color":{"field":"c","type":"nominal"}}},
{"data":{"values":[{"label":"B"}]},"mark":{"type":"text","font":"Liberation Sans","fontWeight":"bold","fontSize":16,"color":"#000"},"encoding":{"x":{"datum":-4.64},"y":{"datum":15.8},"text":{"field":"label"}}},
{"data":{"values":[{"label":"CTR vs CEBPA"}]},"mark":{"type":"text","font":"Liberation Sans","fontWeight":"bold","fontSize":12,"color":"#000"},"encoding":{"x":{"datum":4.88},"y":{"datum":11.56},"text":{"field":"label"}}}
]},
{"width":67,"height":1,"data":{"values":[]},"mark":"point"},
{"width":118,"height":117,"view":{"stroke":"#777","strokeWidth":1.3},"layer":[
{"data":{"name":"env"},"transform":[{"filter":"datum.p=='b2'"}],"mark":"area","encoding":{"x":{"field":"x","type":"quantitative","scale":{"domain":[-0.4,10.4],"nice":false},"axis":{"title":"log(FPKM+1 P30)","values":[0,2,4,6,8,10],"tickCount":6}},"y":{"field":"lo","type":"quantitative","scale":{"domain":[-0.4,10.4],"nice":false},"axis":{"title":"log(FPKM+1 CEBPA","values":[0,2,4,6,8,10],"tickCount":6}},"y2":{"field":"hi"},"color":{"field":"c","type":"nominal","scale":{"domain":["up","ns","down"],"range":["#e8202c","#000000","#2e40a0"]},"legend":null}}},
{"data":{"name":"pts"},"transform":[{"filter":"datum.p=='b2'"}],"mark":{"type":"circle","size":5,"opacity":1},"encoding":{"x":{"field":"x","type":"quantitative"},"y":{"field":"y","type":"quantitative"},"color":{"field":"c","type":"nominal"}}},
{"data":{"values":[{"label":"lncRNAs"}]},"mark":{"type":"text","font":"Liberation Sans","fontWeight":"bold","fontSize":17.5,"color":"#000"},"encoding":{"x":{"datum":3.65},"y":{"datum":14.5},"text":{"field":"label"}}},
{"data":{"values":[{"label":"P30 vs CEBPA"}]},"mark":{"type":"text","font":"Liberation Sans","fontWeight":"bold","fontSize":12,"color":"#000"},"encoding":{"x":{"datum":4.8},"y":{"datum":11.56},"text":{"field":"label"}}}
]},
{"width":66,"height":1,"data":{"values":[]},"mark":"point"},
{"width":117,"height":117,"view":{"stroke":"#777","strokeWidth":1.3},"title":{"text":"P30 vs CTR","dx":3},"layer":[
{"data":{"name":"env"},"transform":[{"filter":"datum.p=='b3'"}],"mark":"area","encoding":{"x":{"field":"x","type":"quantitative","scale":{"domain":[-0.4,10.4],"nice":false},"axis":{"title":"log(FPKM+1 CTR)","values":[0,2,4,6,8,10],"tickCount":6}},"y":{"field":"lo","type":"quantitative","scale":{"domain":[-0.4,10.4],"nice":false},"axis":{"title":"log(FPKM+1 P30)","values":[0,2,4,6,8,10],"tickCount":6}},"y2":{"field":"hi"},"color":{"field":"c","type":"nominal","scale":{"domain":["up","ns","down"],"range":["#e8202c","#000000","#2e40a0"]},"legend":null}}},
{"data":{"name":"pts"},"transform":[{"filter":"datum.p=='b3'"}],"mark":{"type":"circle","size":5,"opacity":1},"encoding":{"x":{"field":"x","type":"quantitative"},"y":{"field":"y","type":"quantitative"},"color":{"field":"c","type":"nominal"}}},
{"data":{"values":[{"label":"UCA1"}]},"mark":{"type":"text","font":"Liberation Serif","fontSize":12.2,"color":"#222"},"encoding":{"x":{"datum":1.8},"y":{"datum":6.7},"text":{"field":"label"}}},
{"data":{"values":[{"label":"UCA1"}]},"mark":{"type":"rule","color":"#e8202c","strokeWidth":1.2},"encoding":{"x":{"datum":1.83},"y":{"datum":5.93},"x2":{"datum":2.8},"y2":{"datum":4.9}}},
{"data":{"values":[{"label":"UCA1"}]},"mark":{"type":"point","shape":"triangle-up","filled":true,"size":35,"angle":137,"opacity":1,"color":"#e8202c"},"encoding":{"x":{"datum":2.75},"y":{"datum":5}}}
]}
],"spacing":0,"bounds":"flush"},
{"width":1,"height":214,"data":{"values":[]},"mark":"point"},
{"hconcat":[
{"width":1,"height":1,"data":{"values":[]},"mark":"point"},
{"vconcat":[
{"width":1,"height":51,"data":{"values":[]},"mark":"point"},
{"width":93,"height":11,"data":{"name":"key"},"mark":"rect","encoding":{"x":{"field":"lo","type":"quantitative","scale":{"domain":[-2.58,1.63],"nice":false,"zero":false},"axis":{"title":"Value","values":[-1.5,-1,-0.5,0,0.5,1],"tickCount":6,"labelExpr":"datum.value==-1?'':''+datum.value","labelFontSize":6,"labelPadding":2,"tickSize":3,"titleFontSize":7.3,"titlePadding":0}},"x2":{"field":"hi"},"color":{"field":"v","type":"quantitative","scale":{"domain":[-1.5,-1.125,-0.75,-0.375,0,0.375,0.75,1.125,1.5],"range":["#14285f","#17508f","#3b7fb6","#8fc0de","#f0eee9","#f5a889","#d5574a","#a51429","#5f0a20"]},"legend":null}}},
{"width":1,"height":34,"data":{"values":[]},"mark":"point"},
{"width":93,"height":226,"data":{"name":"dendLeftC"},"mark":{"type":"rule","color":"#777","strokeWidth":1},"encoding":{"x":{"field":"h","type":"quantitative","scale":{"domain":[93,0],"nice":false,"zero":false},"axis":null},"x2":{"field":"h2"},"y":{"field":"y","type":"quantitative","scale":{"domain":[226,0],"nice":false,"zero":false},"axis":null},"y2":{"field":"y2"}}}
],"spacing":0,"bounds":"flush"},
{"width":97,"height":1,"data":{"values":[]},"mark":"point"},
{"vconcat":[
{"width":101,"height":93,"layer":[
{"data":{"name":"dendTopC"},"mark":{"type":"rule","color":"#777","strokeWidth":1},"encoding":{"x":{"field":"x","type":"quantitative","scale":{"domain":[0,3],"nice":false},"axis":null},"x2":{"field":"x2"},"y":{"field":"y","type":"quantitative","scale":{"domain":[0,1],"nice":false},"axis":null},"y2":{"field":"y2"}}},
{"data":{"values":[{"label":"all genes"}]},"mark":{"type":"text","font":"Liberation Sans","fontWeight":"bold","fontSize":17.5,"color":"#000"},"encoding":{"x":{"datum":-2.29},"y":{"datum":0.73},"text":{"field":"label"}}},
{"data":{"values":[{"label":"C"}]},"mark":{"type":"text","font":"Liberation Sans","fontWeight":"bold","fontSize":16,"color":"#000"},"encoding":{"x":{"datum":-4.63},"y":{"datum":0.925},"text":{"field":"label"}}}
]},
{"width":1,"height":3,"data":{"values":[]},"mark":"point"},
{"width":101,"height":226,"data":{"name":"heatC"},"transform":[{"fold":["CTR","P30","CEBPA"],"as":["col","val"]}],"mark":"rect","encoding":{"x":{"field":"col","type":"nominal","sort":["CTR","P30","CEBPA"],"scale":{"paddingInner":0,"paddingOuter":0},"axis":{"title":null,"labelAngle":-90,"labelAlign":"right","labelBaseline":"middle","labelFontSize":12,"labelFontWeight":"bold","labelColor":"#000","ticks":false,"labelPadding":6}},"y":{"field":"r","type":"ordinal","scale":{"paddingInner":0,"paddingOuter":0},"axis":null},"color":{"field":"val","type":"quantitative","scale":{"domain":[-1.5,-1.125,-0.75,-0.375,0,0.375,0.75,1.125,1.5],"range":["#14285f","#17508f","#3b7fb6","#8fc0de","#f0eee9","#f5a889","#d5574a","#a51429","#5f0a20"]},"legend":null}}}
],"spacing":0,"bounds":"flush"},
{"width":171,"height":1,"data":{"values":[]},"mark":"point"},
{"vconcat":[
{"width":1,"height":56,"data":{"values":[]},"mark":"point"},
{"width":96,"height":12,"data":{"name":"key"},"mark":"rect","encoding":{"x":{"field":"lo","type":"quantitative","scale":{"domain":[-2.56,1.8],"nice":false,"zero":false},"axis":{"title":"Value","values":[-1.5,-1,-0.5,0,0.5,1],"tickCount":6,"labelExpr":"datum.value==-1?'':''+datum.value","labelFontSize":6,"labelPadding":2,"tickSize":3,"titleFontSize":7.3,"titlePadding":0}},"x2":{"field":"hi"},"color":{"field":"v","type":"quantitative","scale":{"domain":[-1.5,-1.125,-0.75,-0.375,0,0.375,0.75,1.125,1.5],"range":["#14285f","#17508f","#3b7fb6","#8fc0de","#f0eee9","#f5a889","#d5574a","#a51429","#5f0a20"]},"legend":null}}},
{"width":1,"height":34,"data":{"values":[]},"mark":"point"},
{"width":96,"height":226,"data":{"name":"dendLeftD"},"mark":{"type":"rule","color":"#777","strokeWidth":1},"encoding":{"x":{"field":"h","type":"quantitative","scale":{"domain":[96,0],"nice":false,"zero":false},"axis":null},"x2":{"field":"h2"},"y":{"field":"y","type":"quantitative","scale":{"domain":[226,0],"nice":false,"zero":false},"axis":null},"y2":{"field":"y2"}}}
],"spacing":0,"bounds":"flush"},
{"width":96,"height":1,"data":{"values":[]},"mark":"point"},
{"vconcat":[
{"width":1,"height":5,"data":{"values":[]},"mark":"point"},
{"width":101,"height":93,"layer":[
{"data":{"name":"dendTopD"},"mark":{"type":"rule","color":"#777","strokeWidth":1},"encoding":{"x":{"field":"x","type":"quantitative","scale":{"domain":[0,3],"nice":false},"axis":null},"x2":{"field":"x2"},"y":{"field":"y","type":"quantitative","scale":{"domain":[0,1],"nice":false},"axis":null},"y2":{"field":"y2"}}},
{"data":{"values":[{"label":"lncRNAs"}]},"mark":{"type":"text","font":"Liberation Sans","fontWeight":"bold","fontSize":17.5,"color":"#000"},"encoding":{"x":{"datum":-1.4},"y":{"datum":0.8},"text":{"field":"label"}}},
{"data":{"values":[{"label":"D"}]},"mark":{"type":"text","font":"Liberation Sans","fontWeight":"bold","fontSize":16,"color":"#000"},"encoding":{"x":{"datum":-3.0},"y":{"datum":0.98},"text":{"field":"label"}}}
]},
{"width":1,"height":4,"data":{"values":[]},"mark":"point"},
{"width":101,"height":226,"data":{"name":"heatD"},"transform":[{"fold":["CTR","P30","CEBPA"],"as":["col","val"]}],"mark":"rect","encoding":{"x":{"field":"col","type":"nominal","sort":["CTR","P30","CEBPA"],"scale":{"paddingInner":0,"paddingOuter":0},"axis":{"title":null,"labelAngle":-90,"labelAlign":"right","labelBaseline":"middle","labelFontSize":12,"labelFontWeight":"bold","labelColor":"#000","ticks":false,"labelPadding":6}},"y":{"field":"r","type":"ordinal","scale":{"paddingInner":0,"paddingOuter":0},"axis":null},"color":{"field":"val","type":"quantitative","scale":{"domain":[-1.5,-1.125,-0.75,-0.375,0,0.375,0.75,1.125,1.5],"range":["#14285f","#17508f","#3b7fb6","#8fc0de","#f0eee9","#f5a889","#d5574a","#a51429","#5f0a20"]},"legend":null}}}
],"spacing":0,"bounds":"flush"}
],"spacing":0,"bounds":"flush"}
]}
